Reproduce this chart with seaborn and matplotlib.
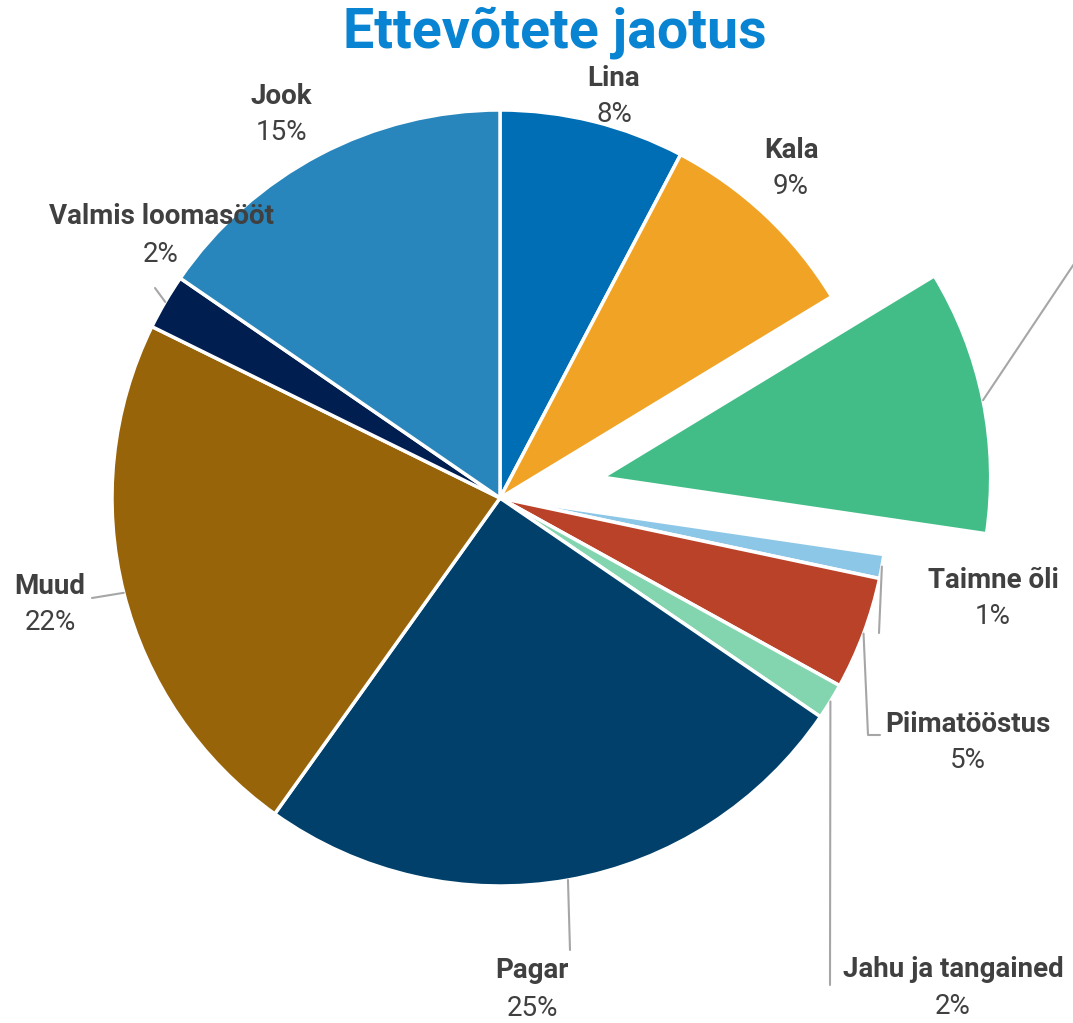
import numpy as np
import matplotlib
matplotlib.use("Agg")
import matplotlib.pyplot as plt
import seaborn as sns

# Slices, clockwise from 12 o'clock
categories = ["Lina", "Kala", "Puu- ja köögiviljad", "Taimne õli", "Piimatööstus",
              "Jahu ja tangained", "Pagar", "Muud", "Valmis loomasööt", "Jook"]
shares = [7.7, 8.6, 11.0, 1.0, 4.7, 1.5, 25.3, 22.4, 2.3, 15.4]
colors = ["#006EB4", "#F0A325", "#43BD87", "#8DC7E7", "#BA4229",
          "#83D5AF", "#00406B", "#98640A", "#001E50", "#2986BC"]
explode = [0, 0, 0.27, 0, 0, 0, 0, 0, 0, 0]

# label placement in pixels (name centre) and leader paths after the wedge edge;
# the exploded slice's label lies outside the picture, only its leader shows
label_px = {
    "Lina": (614, 78), "Kala": (791, 150),
    "Taimne õli": (993, 580), "Piimatööstus": (968, 724),
    "Jahu ja tangained": (953, 970), "Pagar": (532, 971), "Muud": (50, 586),
    "Valmis loomasööt": (161, 217), "Jook": (281, 96),
}
leader_px = {
    "Puu- ja köögiviljad": [(1120, 195)],
    "Taimne õli": [(879, 633)],
    "Piimatööstus": [(868, 735), (880, 735)],
    "Jahu ja tangained": [(830, 985)],
    "Pagar": [(570, 950)],
    "Muud": [(92, 598)],
    "Valmis loomasööt": [(155, 288)],
}

W, H = 1073, 1023
CX, CY, R = 500, 498, 388


def px(x, y):
    return (x - CX) / R, (CY - y) / R


sns.set_theme(style="white")
plt.rcParams["font.family"] = ["Roboto", "DejaVu Sans"]

fig = plt.figure(figsize=(W / 100, H / 100), dpi=100)
ax = fig.add_axes([0, 0, 1, 1])

wedges, _ = ax.pie(shares, colors=colors, explode=explode, startangle=90,
                   counterclock=False, radius=1,
                   wedgeprops=dict(edgecolor="white", linewidth=2.5))

ax.set_xlim(-CX / R, (W - CX) / R)
ax.set_ylim(-(H - CY) / R, CY / R)
ax.set_aspect("equal")
ax.axis("off")

total = sum(shares)
txt = "#404040"
for w, name, val, ex in zip(wedges, categories, shares, explode):
    mid = np.deg2rad((w.theta1 + w.theta2) / 2)
    if name in leader_px:
        pts = [((1 + ex) * np.cos(mid), (1 + ex) * np.sin(mid))]
        pts += [px(*p) for p in leader_px[name]]
        xs, ys = zip(*pts)
        ax.plot(xs, ys, color="#A6A6A6", lw=1.5, zorder=1, clip_on=True)
    if name not in label_px:
        continue
    lx, ly = label_px[name]
    ax.text(*px(lx, ly), name, ha="center", va="center", fontsize=20,
            fontweight="bold", color=txt, zorder=3)
    ax.text(*px(lx, ly + 37), f"{val / total * 100:.0f}%", ha="center",
            va="center", fontsize=20, color=txt, zorder=3)

ax.text(*px(555, 33), "Ettevõtete jaotus", ha="center", va="center",
        fontsize=40, fontweight="bold", color="#0984D2", zorder=5)

fig.savefig("out.png", dpi=100)
